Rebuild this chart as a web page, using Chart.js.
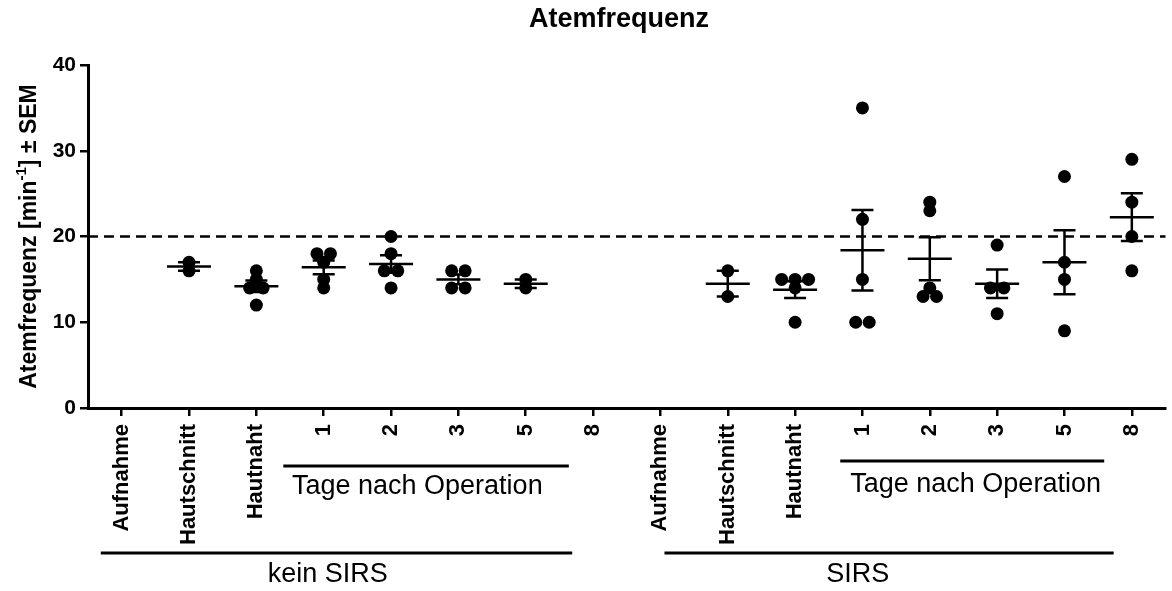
<!DOCTYPE html>
<html>
<head>
<meta charset="utf-8">
<script src="https://cdn.jsdelivr.net/npm/chart.js@4"></script>
<style>body{margin:0;background:#fff}</style>
</head>
<body>
<canvas id="chart" width="1172" height="591"></canvas>
<script>
// x categories (kein SIRS, then SIRS)
const categories = ['Aufnahme', 'Hautschnitt', 'Hautnaht', '1', '2', '3', '5', '8',
                    'Aufnahme', 'Hautschnitt', 'Hautnaht', '1', '2', '3', '5', '8'];

// single values per column
const keinSIRS = [[], [16, 17], [16, 15, 14, 14, 12], [18, 18, 17, 15, 14],
                  [20, 18, 16, 16, 14], [16, 16, 14, 14], [15, 14], []];
const sirs = [[], [16, 13], [15, 15, 15, 14, 10], [35, 22, 15, 10, 10],
              [24, 23, 14, 13, 13], [19, 14, 14, 11], [27, 17, 15, 9], [29, 24, 20, 16]];

const threshold = 20;
const yTicks = [0, 10, 20, 30, 40];

const FONT = "'Liberation Sans', Arial, sans-serif";
const columns = keinSIRS.concat(sirs);

function mean(a) { return a.reduce((s, v) => s + v, 0) / a.length; }
function sem(a) {
    const m = mean(a);
    const sd = Math.sqrt(a.reduce((s, v) => s + (v - m) ** 2, 0) / (a.length - 1));
    return sd / Math.sqrt(a.length);
}

// equal values are put side by side (like a scatter dot plot)
const points = [];
columns.forEach((vals, i) => {
    const count = {}, seen = {};
    vals.forEach(v => count[v] = (count[v] || 0) + 1);
    vals.forEach(v => {
        const k = seen[v] || 0;
        seen[v] = k + 1;
        points.push({ x: i + (k - (count[v] - 1) / 2) * 0.2, y: v });
    });
});

const extras = {
    id: 'extras',
    beforeDatasetsDraw(chart) {
        const { ctx, chartArea: a, scales: { y } } = chart;
        const py = y.getPixelForValue(threshold);
        ctx.save();
        ctx.strokeStyle = '#000';
        ctx.lineWidth = 2.5;
        ctx.setLineDash([10, 6]);
        ctx.beginPath();
        ctx.moveTo(a.left, py);
        ctx.lineTo(a.right, py);
        ctx.stroke();
        ctx.restore();
    },
    afterDatasetsDraw(chart) {
        const { ctx, scales: { x, y } } = chart;
        ctx.save();
        ctx.strokeStyle = '#000';
        ctx.lineWidth = 2.5;
        columns.forEach((vals, i) => {
            if (vals.length < 2) return;
            const m = mean(vals), e = sem(vals);
            const px = x.getPixelForValue(i);
            const hline = (v, half) => {
                const p = y.getPixelForValue(v);
                ctx.moveTo(px - half, p);
                ctx.lineTo(px + half, p);
            };
            ctx.beginPath();
            hline(m, 22);
            hline(m + e, 11);
            hline(m - e, 11);
            ctx.moveTo(px, y.getPixelForValue(m + e));
            ctx.lineTo(px, y.getPixelForValue(m - e));
            ctx.stroke();
        });
        ctx.restore();
    },
    afterDraw(chart) {
        const { ctx, chartArea: a, scales: { x } } = chart;
        ctx.save();
        ctx.fillStyle = '#000';
        ctx.strokeStyle = '#000';

        // chart title
        ctx.font = 'bold 27px ' + FONT;
        ctx.textAlign = 'center';
        ctx.textBaseline = 'middle';
        ctx.fillText('Atemfrequenz', 619, 20);

        // y axis title with superscript
        const big = 'bold 23px ' + FONT, small = 'bold 15px ' + FONT;
        const parts = [['Atemfrequenz [min', big, 0], ['-1', small, -8], ['] \u00b1 SEM', big, 0]];
        let total = 0;
        parts.forEach(p => { ctx.font = p[1]; total += ctx.measureText(p[0]).width; });
        ctx.translate(30, (a.top + a.bottom) / 2);
        ctx.rotate(-Math.PI / 2);
        ctx.textAlign = 'left';
        let cx = -total / 2;
        parts.forEach(p => {
            ctx.font = p[1];
            ctx.fillText(p[0], cx, p[2]);
            cx += ctx.measureText(p[0]).width;
        });
        ctx.setTransform(1, 0, 0, 1, 0, 0);

        // group brackets under the axis
        const brackets = [
            { from: 2.4, to: 6.64, ly: 58, text: 'Tage nach Operation', tx: 4.39, ty: 79 },
            { from: 10.67, to: 14.59, ly: 53, text: 'Tage nach Operation', tx: 12.68, ty: 77 },
            { from: -0.31, to: 6.69, ly: 145, text: 'kein SIRS', tx: 3.06, ty: 167 },
            { from: 8.06, to: 14.73, ly: 145, text: 'SIRS', tx: 10.93, ty: 167 }
        ];
        ctx.lineWidth = 3;
        ctx.font = '27px ' + FONT;
        ctx.textAlign = 'center';
        ctx.textBaseline = 'middle';
        brackets.forEach(b => {
            ctx.beginPath();
            ctx.moveTo(x.getPixelForValue(b.from), a.bottom + b.ly);
            ctx.lineTo(x.getPixelForValue(b.to), a.bottom + b.ly);
            ctx.stroke();
            ctx.fillText(b.text, x.getPixelForValue(b.tx), a.bottom + b.ty);
        });
        ctx.restore();
    }
};

new Chart(document.getElementById('chart'), {
    type: 'scatter',
    data: {
        datasets: [{
            data: points,
            pointRadius: 6.5,
            pointHoverRadius: 6.5,
            backgroundColor: '#000',
            borderWidth: 0
        }]
    },
    options: {
        responsive: false,
        animation: false,
        layout: { padding: { top: 65, right: 2, left: 0, bottom: 0 } },
        plugins: { legend: { display: false }, tooltip: { enabled: false }, title: { display: false } },
        scales: {
            x: {
                type: 'linear',
                min: -0.5,
                max: 15.5,
                afterBuildTicks: (s) => { s.ticks = categories.map((c, i) => ({ value: i })); },
                afterFit: (s) => { s.height = 183; },
                grid: { drawOnChartArea: false, color: '#000', lineWidth: 2.5, tickLength: 8 },
                border: { color: '#000', width: 3 },
                ticks: {
                    autoSkip: false,
                    minRotation: 90,
                    maxRotation: 90,
                    padding: 8,
                    color: '#000',
                    font: { family: FONT, size: 22, weight: 'bold' },
                    callback: (v, i) => categories[i]
                }
            },
            y: {
                min: 0,
                max: 40,
                afterBuildTicks: (s) => { s.ticks = yTicks.map(v => ({ value: v })); },
                afterFit: (s) => { s.width = 88; },
                grid: { drawOnChartArea: false, color: '#000', lineWidth: 2.5, tickLength: 8 },
                border: { color: '#000', width: 3 },
                ticks: {
                    padding: 4,
                    color: '#000',
                    font: { family: FONT, size: 21, weight: 'bold' }
                }
            }
        }
    },
    plugins: [extras]
});
</script>
</body>
</html>
